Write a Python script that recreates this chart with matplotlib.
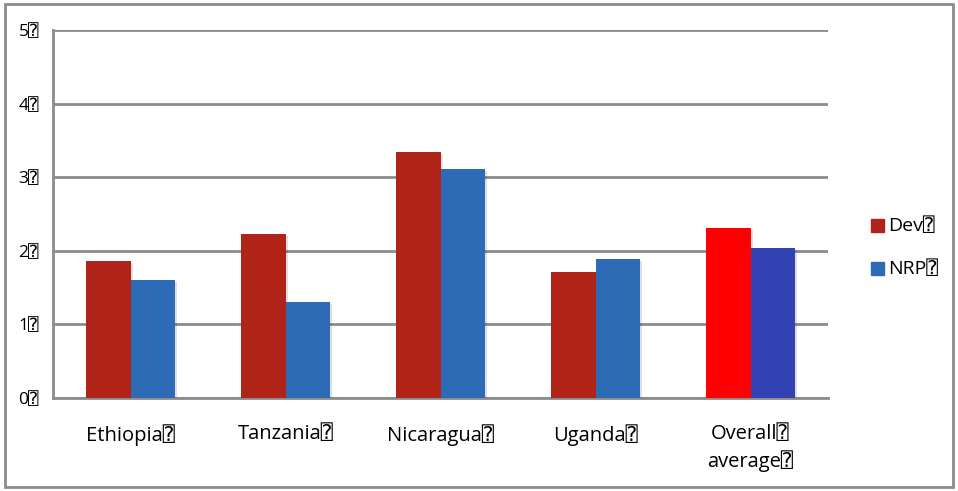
import matplotlib.pyplot as plt
import matplotlib.patheffects as pe
from matplotlib.patches import Rectangle
import numpy as np

# --- DATA ---
categories = ["Ethiopia\u2370", "Tanzania\u2370", "Nicaragua\u2370", "Uganda\u2370", "Overall\u2370\naverage\u2370"]
dev = [1.86, 2.23, 3.34, 1.71, 2.31]
nrp = [1.61, 1.30, 3.11, 1.89, 2.04]
y_ticks = [0, 1, 2, 3, 4, 5]
y_labels = ["0\u2370", "1\u2370", "2\u2370", "3\u2370", "4\u2370", "5\u2370"]

DEV_COL = "#AF2318"
NRP_COL = "#2E6BB7"
# the overall group uses brighter colours
dev_cols = [DEV_COL] * 4 + ["#FF0000"]
nrp_cols = [NRP_COL] * 4 + ["#3142B3"]

plt.rcParams['font.family'] = ['Open Sans', 'DejaVu Sans', 'DejaVu Sans Mono']

fig = plt.figure(figsize=(9.58, 4.91), dpi=100)
# outer border
fig.patches.append(Rectangle((5 / 958, 4 / 491), 948 / 958, 483 / 491, transform=fig.transFigure,
                             fill=False, edgecolor="#8c8c8c", linewidth=2))

ax = fig.add_axes([53 / 958, (491 - 398) / 491, 775 / 958, 368 / 491])
x = np.arange(len(categories))
w = 0.285
shadow = [pe.SimplePatchShadow(offset=(1.5, -1.5), shadow_rgbFace="#000000", alpha=0.12), pe.Normal()]
ax.bar(x - w / 2, dev, width=w, color=dev_cols, zorder=3, path_effects=shadow)
ax.bar(x + w / 2, nrp, width=w, color=nrp_cols, zorder=3, path_effects=shadow)

ax.set_xlim(-0.5, len(categories) - 0.5)
ax.set_ylim(0, 5)
ax.set_yticks(y_ticks)
ax.set_yticklabels(y_labels, fontsize=12.5)
ax.set_xticks(x)
ax.set_xticklabels(categories, fontsize=14.5, linespacing=1.35)
ax.tick_params(axis='y', length=0, pad=10)
ax.tick_params(axis='x', length=0, pad=19)
ax.grid(axis='y', color="#8c8c8c", linewidth=2, zorder=0)
for s in ['top', 'right']:
    ax.spines[s].set_visible(False)
ax.spines['left'].set_color("#8c8c8c")
ax.spines['left'].set_linewidth(2)
ax.spines['bottom'].set_color("#8c8c8c")
ax.spines['bottom'].set_linewidth(2)

# legend
fig.patches.append(Rectangle((871 / 958, (491 - 232) / 491), 13 / 958, 13 / 491,
                             transform=fig.transFigure, color=DEV_COL))
fig.patches.append(Rectangle((871 / 958, (491 - 275) / 491), 13 / 958, 13 / 491,
                             transform=fig.transFigure, color=NRP_COL))
fig.text(888 / 958, (491 - 226) / 491, "Dev\u2370", fontsize=14, va='center')
fig.text(888 / 958, (491 - 269) / 491, "NRP\u2370", fontsize=14, va='center')

fig.savefig("out.png", dpi=100)
